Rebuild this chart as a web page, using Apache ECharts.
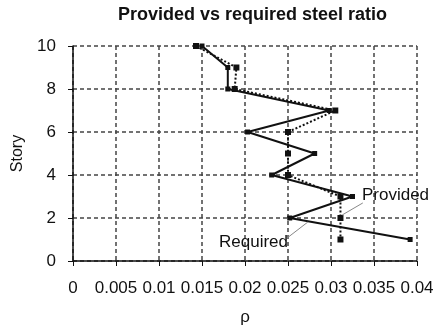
<!DOCTYPE html>
<html>
<head>
<meta charset="utf-8">
<script src="https://cdn.jsdelivr.net/npm/echarts@6/dist/echarts.min.js"></script>
<style>html,body{margin:0;padding:0;background:#fff}#c{width:437px;height:326px}</style>
</head>
<body>
<div id="c"></div>
<script>
const stories = [10, 9, 8, 7, 6, 5, 4, 3, 2, 1];
const provided = [0.0150, 0.0180, 0.0180, 0.0298, 0.0203, 0.0281, 0.0231, 0.0325, 0.0252, 0.0392];
const required = [0.0143, 0.0190, 0.0188, 0.0305, 0.0250, 0.0250, 0.0250, 0.0311, 0.0311, 0.0311];
const xTicks = [0, 0.005, 0.01, 0.015, 0.02, 0.025, 0.03, 0.035, 0.04];
const yTicks = [0, 2, 4, 6, 8, 10];
// annotation anchors in data space [rho, story]
const providedNote = { text: 'Provided', at: [0.0336, 3.07], leader: [[0.0313, 2.14], [0.0337, 2.70]] };
const requiredNote = { text: 'Required', at: [0.0250, 0.88], leader: [[0.0249, 1.07], [0.0273, 1.81]] };

const FONT = '"Liberation Sans", Arial, Helvetica, sans-serif';
const chart = echarts.init(document.getElementById('c'), null, { renderer: 'canvas' });

function pairs(xs) { return xs.map((v, i) => [v, stories[i]]); }

const gridLine = { show: true, lineStyle: { color: '#444', width: 1.5, type: [4, 3] } };

chart.setOption({
  animation: false,
  backgroundColor: '#fff',
  title: {
    text: 'Provided vs required steel ratio',
    left: 118, top: 6, padding: 0,
    textStyle: { fontFamily: FONT, fontSize: 18, fontWeight: 'bold', color: '#111' }
  },
  grid: { left: 73, right: 20, top: 46, bottom: 65, outerBoundsMode: 'none', containLabel: false },
  xAxis: {
    type: 'value', min: xTicks[0], max: xTicks[xTicks.length - 1], interval: 0.005,
    name: 'ρ', nameLocation: 'middle', nameGap: 48,
    nameTextStyle: { fontFamily: FONT, fontSize: 17, color: '#111' },
    axisLine: { show: true, lineStyle: { color: '#111', width: 1.5 } },
    axisTick: { show: true, length: 5, lineStyle: { color: '#111' } },
    axisLabel: { fontFamily: FONT, fontSize: 17, color: '#111', margin: 19,
      formatter: v => String(+v.toFixed(3)) },
    splitLine: gridLine
  },
  yAxis: {
    type: 'value', min: yTicks[0], max: yTicks[yTicks.length - 1], interval: 2,
    name: 'Story', nameLocation: 'middle', nameGap: 47, nameRotate: 90,
    nameTextStyle: { fontFamily: FONT, fontSize: 16, color: '#111' },
    axisLine: { show: true, lineStyle: { color: '#111', width: 1.5 } },
    axisTick: { show: true, length: 5, lineStyle: { color: '#111' } },
    axisLabel: { fontFamily: FONT, fontSize: 17, color: '#111', margin: 17 },
    splitLine: gridLine
  },
  series: [
    {
      name: 'Provided', type: 'line', data: pairs(provided),
      symbol: 'rect', symbolSize: 5, showSymbol: true,
      lineStyle: { color: '#111', width: 2 }, itemStyle: { color: '#111' },
      markLine: {
        silent: true, symbol: ['none', 'none'], label: { show: false },
        lineStyle: { color: '#888', width: 1, type: 'solid' },
        data: [
          [{ coord: providedNote.leader[0] }, { coord: providedNote.leader[1] }],
          [{ coord: requiredNote.leader[0] }, { coord: requiredNote.leader[1] }]
        ]
      },
      markPoint: {
        silent: true, symbol: 'circle', symbolSize: 0,
        data: [
          { coord: providedNote.at, label: { show: true, formatter: providedNote.text, position: 'right', distance: 0,
            fontFamily: FONT, fontSize: 17, color: '#111' } },
          { coord: requiredNote.at, label: { show: true, formatter: requiredNote.text, position: 'left', distance: 0,
            fontFamily: FONT, fontSize: 17, color: '#111' } }
        ]
      }
    },
    {
      name: 'Required', type: 'line', data: pairs(required),
      symbol: 'rect', symbolSize: 6, showSymbol: true,
      lineStyle: { color: '#111', width: 2, type: [2, 2] }, itemStyle: { color: '#111' }
    }
  ]
});
</script>
</body>
</html>
